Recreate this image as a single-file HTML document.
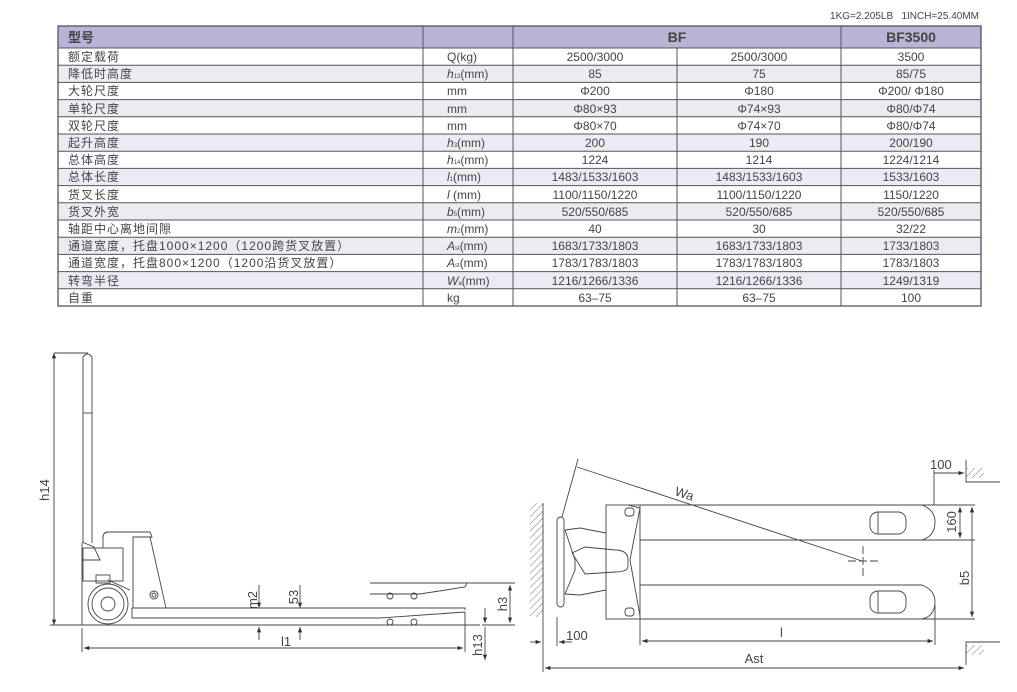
<!DOCTYPE html>
<html><head><meta charset="utf-8"><style>
html,body{margin:0;padding:0;background:#fff;width:1017px;height:692px;overflow:hidden}
svg text{font-family:"Liberation Sans","Noto Sans CJK SC",sans-serif;fill:#444}
</style></head><body>
<svg width="1017" height="692" viewBox="0 0 1017 692" xmlns="http://www.w3.org/2000/svg">
<defs>
<marker id="a" viewBox="0 0 10 10" refX="10" refY="5" markerWidth="8" markerHeight="6" orient="auto-start-reverse"><path d="M0,1 L10,5 L0,9 z" fill="#333"/></marker>
<pattern id="h" width="5" height="5" patternUnits="userSpaceOnUse" patternTransform="rotate(45)"><line x1="0" y1="0" x2="0" y2="5" stroke="#555" stroke-width="0.8"/></pattern>
</defs>
<text x="979" y="19" font-size="10" text-anchor="end">1KG=2.205LB&#160;&#160;&#160;1INCH=25.40MM</text>
<!-- table -->
<rect x="58" y="26" width="923" height="22" fill="#b9b3d6"/>
<g fill="#ecebf4">
<rect x="58" y="65.2" width="923" height="17.2"/>
<rect x="58" y="99.6" width="923" height="17.2"/>
<rect x="58" y="134" width="923" height="17.2"/>
<rect x="58" y="168.4" width="923" height="17.2"/>
<rect x="58" y="202.8" width="923" height="17.2"/>
<rect x="58" y="237.2" width="923" height="17.2"/>
<rect x="58" y="271.6" width="923" height="17.2"/>
</g>
<g stroke="#555" stroke-width="1">
<rect x="58" y="26" width="923" height="280" fill="none" stroke-width="1.3"/>
<line x1="58" y1="48" x2="981" y2="48"/>
<line x1="58" y1="65.2" x2="981" y2="65.2"/><line x1="58" y1="82.4" x2="981" y2="82.4"/>
<line x1="58" y1="99.6" x2="981" y2="99.6"/><line x1="58" y1="116.8" x2="981" y2="116.8"/>
<line x1="58" y1="134" x2="981" y2="134"/><line x1="58" y1="151.2" x2="981" y2="151.2"/>
<line x1="58" y1="168.4" x2="981" y2="168.4"/><line x1="58" y1="185.6" x2="981" y2="185.6"/>
<line x1="58" y1="202.8" x2="981" y2="202.8"/><line x1="58" y1="220" x2="981" y2="220"/>
<line x1="58" y1="237.2" x2="981" y2="237.2"/><line x1="58" y1="254.4" x2="981" y2="254.4"/>
<line x1="58" y1="271.6" x2="981" y2="271.6"/><line x1="58" y1="288.8" x2="981" y2="288.8"/>
<line x1="423" y1="26" x2="423" y2="306"/><line x1="513" y1="26" x2="513" y2="306"/>
<line x1="677" y1="48" x2="677" y2="306"/><line x1="841" y1="26" x2="841" y2="306"/>
</g>
<text x="68" y="42" font-size="13" font-weight="bold" fill="#333">型号</text>
<text x="677" y="42" font-size="14" text-anchor="middle" fill="#222" font-weight="bold">BF</text>
<text x="911" y="42" font-size="14" text-anchor="middle" fill="#222" font-weight="bold">BF3500</text>
<g font-size="12">
<g letter-spacing="1">
<text x="68" y="61">额定载荷</text><text x="68" y="78">降低时高度</text><text x="68" y="95">大轮尺度</text><text x="68" y="113">单轮尺度</text><text x="68" y="130">双轮尺度</text><text x="68" y="147">起升高度</text><text x="68" y="164">总体高度</text><text x="68" y="181">总体长度</text><text x="68" y="199">货叉长度</text><text x="68" y="216">货叉外宽</text><text x="68" y="233">轴距中心离地间隙</text><text x="68" y="250">通道宽度，托盘1000×1200（1200跨货叉放置）</text><text x="68" y="267">通道宽度，托盘800×1200（1200沿货叉放置）</text><text x="68" y="285">转弯半径</text><text x="68" y="302">自重</text>
</g>
<g>
<text x="447" y="61">Q(kg)</text><text x="447" y="78"><tspan font-style="italic">h</tspan><tspan font-size="6">13</tspan>(mm)</text><text x="447" y="95">mm</text><text x="447" y="113">mm</text><text x="447" y="130">mm</text><text x="447" y="147"><tspan font-style="italic">h</tspan><tspan font-size="6">3</tspan>(mm)</text><text x="447" y="164"><tspan font-style="italic">h</tspan><tspan font-size="6">14</tspan>(mm)</text><text x="447" y="181"><tspan font-style="italic">l</tspan><tspan font-size="6">1</tspan>(mm)</text><text x="447" y="199"><tspan font-style="italic">l</tspan> (mm)</text><text x="447" y="216"><tspan font-style="italic">b</tspan><tspan font-size="6">5</tspan>(mm)</text><text x="447" y="233"><tspan font-style="italic">m</tspan><tspan font-size="6">2</tspan>(mm)</text><text x="447" y="250"><tspan font-style="italic">A</tspan><tspan font-size="6">st</tspan>(mm)</text><text x="447" y="267"><tspan font-style="italic">A</tspan><tspan font-size="6">st</tspan>(mm)</text><text x="447" y="285"><tspan font-style="italic">W</tspan><tspan font-size="6">a</tspan>(mm)</text><text x="447" y="302">kg</text>
</g>
<g text-anchor="middle">
<text x="595" y="61">2500/3000</text><text x="595" y="78">85</text><text x="595" y="95">Φ200</text><text x="595" y="113">Φ80×93</text><text x="595" y="130">Φ80×70</text><text x="595" y="147">200</text><text x="595" y="164">1224</text><text x="595" y="181">1483/1533/1603</text><text x="595" y="199">1100/1150/1220</text><text x="595" y="216">520/550/685</text><text x="595" y="233">40</text><text x="595" y="250">1683/1733/1803</text><text x="595" y="267">1783/1783/1803</text><text x="595" y="285">1216/1266/1336</text><text x="595" y="302">63–75</text>
<text x="759" y="61">2500/3000</text><text x="759" y="78">75</text><text x="759" y="95">Φ180</text><text x="759" y="113">Φ74×93</text><text x="759" y="130">Φ74×70</text><text x="759" y="147">190</text><text x="759" y="164">1214</text><text x="759" y="181">1483/1533/1603</text><text x="759" y="199">1100/1150/1220</text><text x="759" y="216">520/550/685</text><text x="759" y="233">30</text><text x="759" y="250">1683/1733/1803</text><text x="759" y="267">1783/1783/1803</text><text x="759" y="285">1216/1266/1336</text><text x="759" y="302">63–75</text>
<text x="911" y="61">3500</text><text x="911" y="78">85/75</text><text x="911" y="95">Φ200/ Φ180</text><text x="911" y="113">Φ80/Φ74</text><text x="911" y="130">Φ80/Φ74</text><text x="911" y="147">200/190</text><text x="911" y="164">1224/1214</text><text x="911" y="181">1533/1603</text><text x="911" y="199">1150/1220</text><text x="911" y="216">520/550/685</text><text x="911" y="233">32/22</text><text x="911" y="250">1733/1803</text><text x="911" y="267">1783/1803</text><text x="911" y="285">1249/1319</text><text x="911" y="302">100</text>
</g>
</g>

<!-- left side view -->
<g stroke="#444" stroke-width="0.9" fill="none">
<line x1="54" y1="353" x2="54" y2="625" marker-start="url(#a)" marker-end="url(#a)"/>
<line x1="54" y1="353" x2="88" y2="353"/>
<line x1="50" y1="625" x2="480" y2="625"/>
<path d="M83,543 L83,357 Q87.5,351 92,357 L92,543"/>
<line x1="83" y1="413" x2="92" y2="413"/>
<path d="M82,543 L82,625"/>
<path d="M82,542 L94,547 L100,560 L82,560"/>
<rect x="83" y="548" width="40" height="33"/>
<path d="M103,548 L103,538 Q103,532 108,532 L150,532 L152,537 L133,537"/>
<path d="M133,537 L150,537 L166,608 L133,608 Z"/>
<rect x="96" y="575" width="14" height="8"/>
<path d="M108,580 L130,590"/>
<circle cx="108" cy="604" r="20"/><circle cx="108" cy="604" r="16"/><circle cx="108" cy="604" r="7"/>
<circle cx="154" cy="595" r="4"/><circle cx="154" cy="595" r="2"/>
<path d="M132,608 L465,608 L465,610 M132,608 L132,618 L380,618"/>
<path d="M380,618 L465,612"/>
<circle cx="390" cy="622" r="3"/><circle cx="414" cy="622" r="3"/>
<path d="M370,583 L467,583 L465,587 L420,594 L370,594"/>
<circle cx="390" cy="596" r="3"/><circle cx="414" cy="596" r="3"/>
<line x1="82" y1="628" x2="82" y2="652"/><line x1="465" y1="612" x2="465" y2="652"/>
<line x1="84" y1="648" x2="463" y2="648" marker-start="url(#a)" marker-end="url(#a)"/>
<line x1="259" y1="585" x2="259" y2="608" marker-end="url(#a)"/><line x1="259" y1="640" x2="259" y2="627" marker-end="url(#a)"/>
<line x1="300" y1="585" x2="300" y2="608" marker-end="url(#a)"/><line x1="300" y1="640" x2="300" y2="627" marker-end="url(#a)"/>
<line x1="467" y1="583" x2="515" y2="583"/><line x1="482" y1="625" x2="515" y2="625"/>
<line x1="510" y1="585" x2="510" y2="623" marker-start="url(#a)" marker-end="url(#a)"/>
<line x1="485" y1="608" x2="485" y2="623" marker-end="url(#a)"/><line x1="485" y1="660" x2="485" y2="627" marker-start="url(#a)"/>
</g>
<g font-size="13" fill="#333">
<text transform="translate(49,490) rotate(-90)" text-anchor="middle">h14</text>
<text transform="translate(257,600) rotate(-90)" text-anchor="middle">m2</text>
<text transform="translate(298,597) rotate(-90)" text-anchor="middle">53</text>
<text transform="translate(507,604) rotate(-90)" text-anchor="middle">h3</text>
<text transform="translate(482,645) rotate(-90)" text-anchor="middle">h13</text>
<text x="286" y="646" text-anchor="middle">l1</text>
</g>

<!-- right top view -->
<rect x="530" y="503" width="13" height="114" fill="url(#h)"/>
<rect x="966" y="468" width="18" height="10" fill="url(#h)"/>
<rect x="966" y="645" width="18" height="10" fill="url(#h)"/>
<g stroke="#444" stroke-width="0.9" fill="none">
<line x1="543" y1="503" x2="543" y2="640"/>
<path d="M966,460 L966,482 L1000,482"/>
<path d="M966,665 L966,642 L1000,642"/>
<rect x="557" y="517" width="7" height="90" rx="3.5"/>
<line x1="562" y1="517" x2="578" y2="459"/>
<line x1="577" y1="467" x2="862" y2="561"/>
<path d="M848,561 L878,561 M863,546 L863,576" stroke-dasharray="8,3"/>
<path d="M565,530 L580,528 L606,533 M565,594 L580,595 L606,590"/>
<path d="M565,530 L575,560 L575,570 L565,594"/>
<path d="M572,553 L585,547 L615,550 Q628,550 628,560 L628,566 Q628,572 615,572 L585,574 Z"/>
<rect x="606" y="505" width="34" height="114"/>
<path d="M628,505 L640,508 L630,560 L640,616"/>
<path d="M640,505 L922,505 Q935,510 935,522 Q935,536 922,540 L640,540"/>
<path d="M640,585 L922,585 Q935,590 935,602 Q935,616 922,619 L640,619"/>
<path d="M640,505 L975,505 M922,540 L975,540 M922,619 L975,619"/>
<rect x="870" y="512" width="36" height="22" rx="8"/><line x1="878" y1="512" x2="878" y2="534"/>
<rect x="870" y="591" width="36" height="22" rx="8"/><line x1="878" y1="591" x2="878" y2="613"/>
<rect x="625" y="508" width="9" height="8" rx="3"/><rect x="625" y="608" width="9" height="8" rx="3"/>
<line x1="960" y1="507" x2="960" y2="538" marker-start="url(#a)" marker-end="url(#a)"/>
<line x1="972" y1="507" x2="972" y2="617" marker-start="url(#a)" marker-end="url(#a)"/>
<line x1="934" y1="505" x2="934" y2="470"/>
<line x1="934" y1="473" x2="964" y2="473" marker-end="url(#a)"/>
<line x1="557" y1="617" x2="557" y2="646"/>
<line x1="530" y1="642" x2="541" y2="642" marker-end="url(#a)"/><line x1="572" y1="642" x2="559" y2="642" marker-end="url(#a)"/>
<line x1="640" y1="619" x2="640" y2="645"/><line x1="935" y1="605" x2="935" y2="645"/>
<line x1="642" y1="641" x2="933" y2="641" marker-start="url(#a)" marker-end="url(#a)"/>
<line x1="543" y1="640" x2="543" y2="672"/>
<line x1="545" y1="668" x2="964" y2="668" marker-start="url(#a)" marker-end="url(#a)"/>
</g>
<g font-size="13" fill="#333">
<text x="930" y="469">100</text>
<text x="566" y="640">100</text>
<text x="780" y="637">l</text>
<text x="754" y="663" text-anchor="middle">Ast</text>
<text x="674" y="495" transform="rotate(18 674 495)">Wa</text>
<text transform="translate(956,522) rotate(-90)" text-anchor="middle">160</text>
<text transform="translate(969,578) rotate(-90)" text-anchor="middle">b5</text>
</g>
</svg>
</body></html>
